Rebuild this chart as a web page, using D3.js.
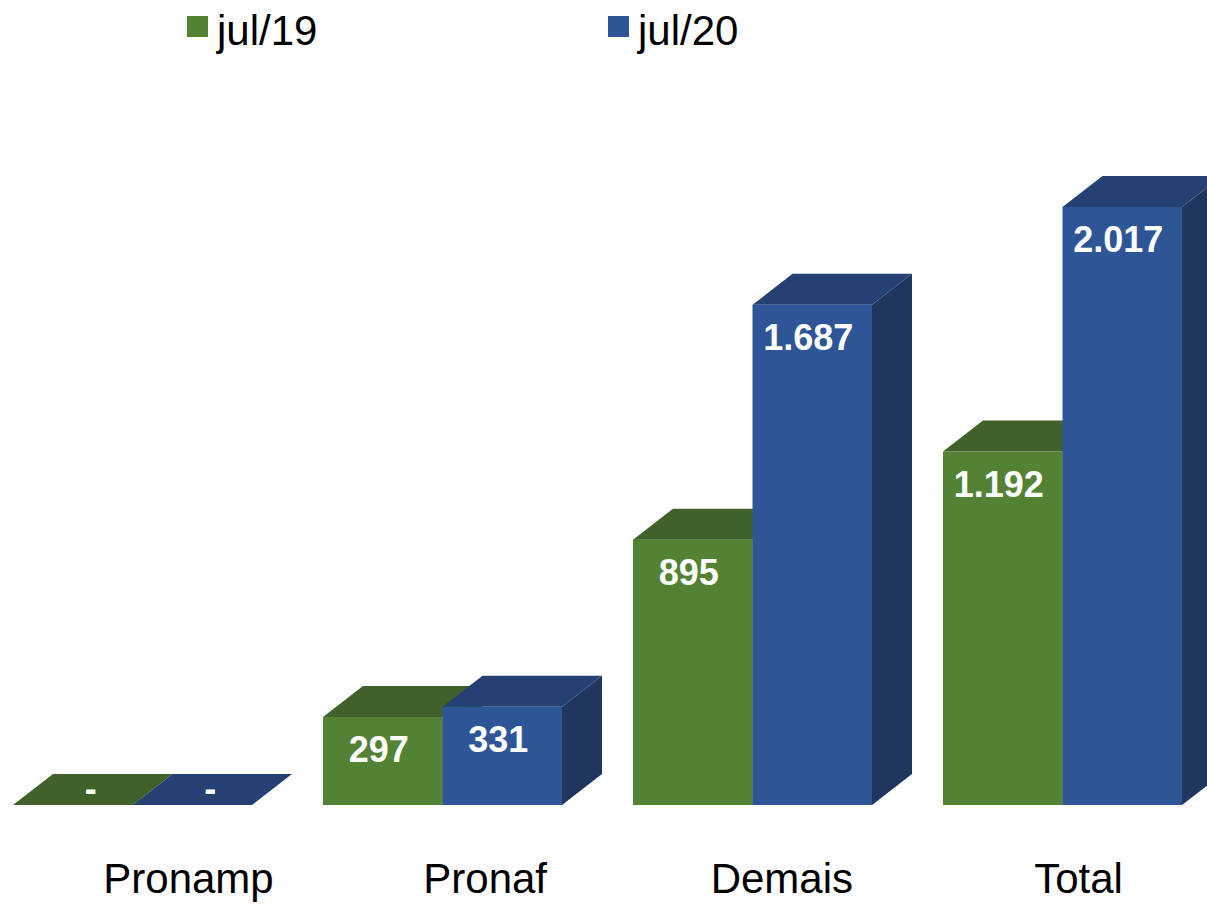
<!DOCTYPE html>
<html>
<head>
<meta charset="utf-8">
<script src="https://cdn.jsdelivr.net/npm/d3@7"></script>
<style>
  html, body { margin: 0; padding: 0; background: #ffffff; }
  svg { display: block; font-family: Arial, "Liberation Sans", Helvetica, sans-serif; }
</style>
</head>
<body>
<svg id="chart" width="1207" height="904"></svg>
<script>
// ---- data ----
const categories = ["Pronamp", "Pronaf", "Demais", "Total"];
const seriesNames = ["jul/19", "jul/20"];
const values19 = [0, 297, 895, 1192];
const values20 = [0, 331, 1687, 2017];

// ---- styles ----
const palette = {
  "jul/19": { front: "#548235", top: "#41612B", side: "#375324" },
  "jul/20": { front: "#2E5596", top: "#254174", side: "#20365F" }
};
const depthX = 40, depthY = 31;

const svg = d3.select("#chart");
const W = 1207, H = 904;

const x0 = d3.scaleBand().domain(categories).range([13, 1182]).paddingInner(0.229).paddingOuter(0);
const x1 = d3.scaleBand().domain(seriesNames).range([0, x0.bandwidth()]).padding(0);
const y = d3.scaleLinear().domain([0, 2000]).range([805, 212]);
const xLabel = d3.scalePoint().domain(categories).range([188, 1078]);

const ptFmt = d3.formatLocale({ decimal: ",", thousands: ".", grouping: [3], currency: ["R$", ""] }).format(",d");
const fmt = v => v === 0 ? "-" : ptFmt(v);

const rows = categories.map((c, i) => ({ cat: c, vals: [
  { s: "jul/19", v: values19[i] },
  { s: "jul/20", v: values20[i] }
]}));

const bars = svg.append("g");
rows.forEach(r => {
  r.vals.forEach(d => {
    const xl = x0(r.cat) + x1(d.s);
    const xr = xl + x1.bandwidth();
    const yt = y(d.v), yb = y(0);
    const col = palette[d.s];
    const g = bars.append("g");
    // side face
    g.append("path")
      .attr("d", `M${xr},${yb}L${xr + depthX},${yb - depthY}L${xr + depthX},${yt - depthY}L${xr},${yt}Z`)
      .attr("fill", col.side);
    // front face
    g.append("rect")
      .attr("x", xl).attr("y", yt)
      .attr("width", x1.bandwidth()).attr("height", yb - yt)
      .attr("fill", col.front);
    // top face
    g.append("path")
      .attr("d", `M${xl},${yt}L${xr},${yt}L${xr + depthX},${yt - depthY}L${xl + depthX},${yt - depthY}Z`)
      .attr("fill", col.top);
  });
});

// data labels
const labels = svg.append("g")
  .attr("fill", "#ffffff")
  .attr("font-weight", "bold")
  .attr("font-size", 36)
  .attr("text-anchor", "middle");
rows.forEach(r => {
  r.vals.forEach(d => {
    const cx = x0(r.cat) + x1(d.s) + x1.bandwidth() / 2;
    if (d.v === 0) {
      labels.append("text")
        .attr("x", cx + depthX / 2 - 2)
        .attr("y", y(0) - depthY / 2 + 11)
        .text(fmt(d.v));
    } else {
      labels.append("text")
        .attr("x", cx - 4)
        .attr("y", y(d.v) + 45)
        .text(fmt(d.v));
    }
  });
});

// category axis
const axis = svg.append("g")
  .attr("transform", "translate(0,893)")
  .call(d3.axisBottom(xLabel).tickSize(0).tickPadding(0));
axis.select(".domain").remove();
axis.selectAll("text")
  .attr("dy", 0)
  .attr("y", 0)
  .attr("fill", "#000000")
  .attr("font-size", 42)
  .attr("font-family", "Arial, 'Liberation Sans', sans-serif");

// legend
const legendX = d3.scalePoint().domain(seriesNames).range([187, 608]);
const leg = svg.append("g");
seriesNames.forEach(s => {
  const lx = legendX(s);
  leg.append("rect")
    .attr("x", lx).attr("y", 16)
    .attr("width", 21).attr("height", 21)
    .attr("fill", palette[s].front);
  leg.append("text")
    .attr("x", lx + 30).attr("y", 45)
    .attr("font-size", 42)
    .attr("fill", "#000000")
    .text(s);
});
</script>
</body>
</html>
